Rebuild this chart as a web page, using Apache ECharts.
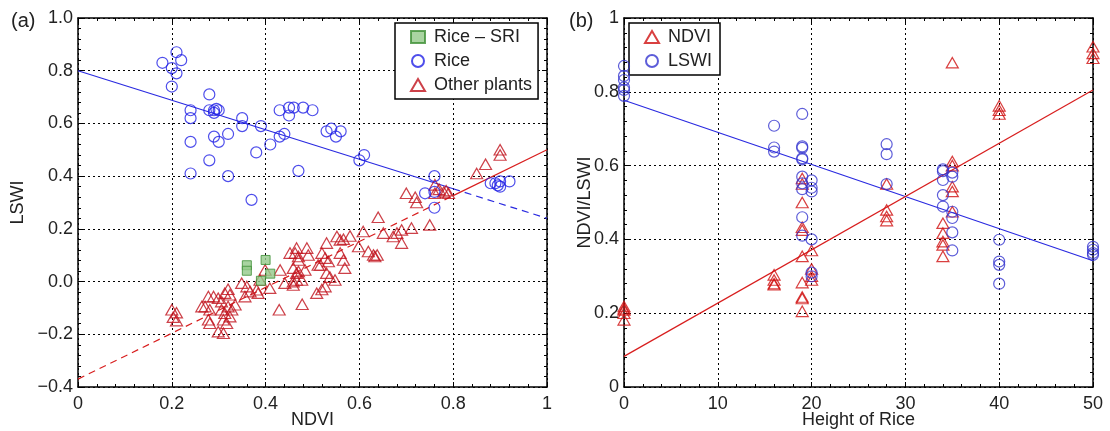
<!DOCTYPE html>
<html>
<head>
<meta charset="utf-8">
<script src="https://cdn.jsdelivr.net/npm/echarts@6/dist/echarts.min.js"></script>
<style>html,body{margin:0;padding:0;background:#fff}#c{width:1110px;height:431px}</style>
</head>
<body>
<div id="c"></div>
<script>
// ---- Panel (a): NDVI vs LSWI ----
const riceSRI = [[0.36,0.062],[0.36,0.041],[0.40,0.082],[0.41,0.03],[0.39,0.003]];
const riceA = [
 [0.18,0.83],[0.20,0.81],[0.21,0.87],[0.22,0.84],[0.21,0.79],[0.20,0.74],
 [0.28,0.71],[0.24,0.65],[0.24,0.62],[0.28,0.65],[0.29,0.65],[0.30,0.65],[0.29,0.64],[0.295,0.655],
 [0.35,0.62],[0.35,0.59],[0.39,0.59],[0.29,0.55],[0.32,0.56],[0.30,0.53],[0.24,0.53],[0.28,0.46],
 [0.24,0.41],[0.32,0.40],[0.37,0.31],[0.38,0.49],[0.41,0.52],[0.43,0.55],[0.44,0.56],[0.43,0.65],
 [0.45,0.66],[0.46,0.66],[0.45,0.63],[0.48,0.66],[0.50,0.65],[0.47,0.42],
 [0.53,0.57],[0.54,0.58],[0.55,0.55],[0.56,0.57],[0.60,0.46],[0.61,0.48],
 [0.76,0.40],[0.74,0.335],[0.76,0.34],[0.76,0.28],
 [0.88,0.373],[0.89,0.373],[0.90,0.38],[0.90,0.36],[0.92,0.38],[0.895,0.365]
];
const otherPlants = [
 [0.20,-0.107],[0.21,-0.118],[0.203,-0.135],[0.21,-0.148],
 [0.264,-0.095],[0.278,-0.057],[0.289,-0.057],[0.271,-0.095],[0.281,-0.107],[0.278,-0.145],[0.281,-0.158],
 [0.299,-0.063],[0.306,-0.076],[0.313,-0.044],[0.32,-0.029],[0.324,-0.05],
 [0.306,-0.107],[0.313,-0.12],[0.32,-0.095],[0.328,-0.107],[0.335,-0.088],
 [0.31,-0.145],[0.317,-0.158],[0.324,-0.133],[0.299,-0.19],[0.31,-0.196],
 [0.349,-0.006],[0.36,-0.019],[0.367,-0.038],[0.381,-0.031],[0.384,-0.044],[0.356,-0.057],
 [0.388,0.006],[0.399,0.044],[0.409,-0.025],[0.431,0.044],[0.429,-0.107],[0.441,-0.006],
 [0.459,0.0],[0.466,0.032],[0.463,0.108],[0.47,0.082],
 [0.452,0.108],[0.466,0.127],[0.488,0.127],[0.47,0.095],[0.491,0.101],
 [0.459,0.051],[0.47,0.038],[0.484,0.044],[0.466,0.006],[0.477,0.006],[0.459,-0.013],
 [0.478,-0.086],[0.509,-0.044],[0.512,0.063],
 [0.53,0.146],[0.52,0.108],[0.527,0.089],[0.534,0.076],[0.517,0.063],
 [0.53,0.032],[0.537,0.017],[0.548,0.006],[0.527,-0.019],[0.52,-0.03],
 [0.552,0.171],[0.559,0.158],[0.566,0.161],[0.58,0.173],
 [0.559,0.108],[0.566,0.082],[0.569,0.051],
 [0.598,0.133],[0.608,0.19],[0.64,0.244],
 [0.619,0.114],[0.63,0.101],[0.638,0.101],[0.633,0.095],
 [0.651,0.184],[0.672,0.171],[0.68,0.184],[0.69,0.196],[0.69,0.146],[0.711,0.203],[0.75,0.215],
 [0.70,0.335],[0.722,0.30],[0.719,0.32],
 [0.761,0.367],[0.77,0.35],[0.78,0.34],[0.79,0.335],[0.785,0.345],[0.761,0.335],
 [0.85,0.41],[0.869,0.445],[0.90,0.50],[0.90,0.48]
];
const fitRiceSolid = [[0,0.80],[0.80,0.352]];
const fitRiceDash = [[0.80,0.352],[1,0.24]];
const fitOtherDash = [[0,-0.37],[0.80,0.326]];
const fitOtherSolid = [[0.80,0.326],[1,0.50]];
const ticksAX = [0,0.2,0.4,0.6,0.8,1];
const ticksAY = [-0.4,-0.2,0,0.2,0.4,0.6,0.8,1.0];

// ---- Panel (b): Height of rice vs NDVI / LSWI ----
const ndviB = [
 [0,0.218],[0,0.212],[0,0.209],[0,0.20],[0,0.182],
 [16,0.304],[16,0.29],[16,0.28],[16,0.277],
 [19,0.565],[19,0.55],[19,0.50],[19,0.433],[19,0.425],[19,0.354],[19,0.283],[19,0.244],[19,0.24],[19,0.205],
 [20,0.37],[20,0.32],[20,0.30],[20,0.29],
 [28,0.55],[28,0.48],[28,0.462],[28,0.451],
 [34,0.444],[34,0.417],[34,0.394],[34,0.385],[34,0.354],
 [35,0.879],[35,0.611],[35,0.60],[35,0.543],[35,0.53],[35,0.475],
 [40,0.762],[40,0.75],[40,0.74],
 [50,0.922],[50,0.904],[50,0.891]
];
const lswiB = [
 [0,0.87],[0,0.843],[0,0.832],[0,0.812],[0,0.805],[0,0.789],
 [16,0.708],[16,0.649],[16,0.638],
 [19,0.74],[19,0.652],[19,0.648],[19,0.62],[19,0.617],[19,0.57],[19,0.552],[19,0.536],[19,0.46],[19,0.41],
 [20,0.56],[20,0.54],[20,0.53],[20,0.40],[20,0.31],[20,0.30],
 [28,0.658],[28,0.631],[28,0.55],
 [34,0.59],[34,0.585],[34,0.561],[34,0.52],[34,0.489],
 [35,0.581],[35,0.57],[35,0.475],[35,0.458],[35,0.419],[35,0.37],
 [40,0.399],[40,0.34],[40,0.331],[40,0.28],
 [50,0.38],[50,0.372],[50,0.363],[50,0.358]
];
const fitNdviB = [[0,0.083],[50,0.805]];
const fitLswiB = [[0,0.777],[50,0.342]];
const ticksBX = [0,10,20,30,40,50];
const ticksBY = [0,0.2,0.4,0.6,0.8,1];

const FONT = 'Liberation Sans';
const TXT = '#222';
const BLUE = '#2222e6';
const RED = '#c0121c';
const BLUE_L = '#2a2ae0';
const RED_L = '#d81e1e';

function fmtA_X(v){ if (Math.abs(v)<1e-9) return '0'; if (Math.abs(v-1)<1e-9) return '1'; return v.toFixed(1); }
function fmtA_Y(v){ if (Math.abs(v)<1e-9) return '0.0'; return (v<0?'\u2212':'') + Math.abs(v).toFixed(1); }
function fmtB_Y(v){ if (Math.abs(v)<1e-9) return '0'; if (Math.abs(v-1)<1e-9) return '1'; return v.toFixed(1); }

function mkAxis(gridIndex, min, max, interval, pos, showLabel, fmt, name, nameGap, isX) {
  return {
    type: 'value', gridIndex, min, max, interval, position: pos,
    name: showLabel ? name : '', nameLocation: 'middle', nameGap: nameGap, nameMoveOverlap: false,
    nameTextStyle: { fontFamily: FONT, fontSize: 18, color: TXT },
    axisLine: { show: true, onZero: false, lineStyle: { color: '#000', width: 1.5 } },
    axisTick: { show: true, inside: true, length: 5, lineStyle: { color: '#000', width: 1 } },
    minorTick: { show: true, splitNumber: 5, length: 3, lineStyle: { color: '#000', width: 1 } },
    axisLabel: { show: showLabel, formatter: fmt, fontFamily: FONT, fontSize: 18, color: TXT, margin: isX ? 8 : 5 },
    splitLine: { show: showLabel, lineStyle: { color: '#000', width: 1, type: [2, 3] } },
    minorSplitLine: { show: false }
  };
}

const circleStyle = c => ({ color: 'rgba(0,0,0,0)', borderColor: c, borderWidth: 1.2 });
const triStyle = c => ({ color: 'rgba(0,0,0,0)', borderColor: c, borderWidth: 1.2 });

const option = {
  animation: false,
  backgroundColor: '#fff',
  title: [
    { text: '(a)', left: 6, top: 6, textStyle: { fontFamily: FONT, fontSize: 20, fontWeight: 'normal', color: TXT } },
    { text: '(b)', left: 564, top: 6, textStyle: { fontFamily: FONT, fontSize: 20, fontWeight: 'normal', color: TXT } }
  ],
  grid: [
    { left: 78, right: 563, top: 18, bottom: 44, containLabel: false, outerBoundsMode: 'none' },
    { left: 624, right: 17, top: 18, bottom: 44, containLabel: false, outerBoundsMode: 'none' }
  ],
  xAxis: [
    mkAxis(0, 0, 1, 0.2, 'bottom', true, fmtA_X, 'NDVI', 24, true),
    mkAxis(0, 0, 1, 0.2, 'top', false, fmtA_X, '', 0, true),
    mkAxis(1, 0, 50, 10, 'bottom', true, null, 'Height of Rice', 24, true),
    mkAxis(1, 0, 50, 10, 'top', false, null, '', 0, true)
  ],
  yAxis: [
    mkAxis(0, -0.4, 1.0, 0.2, 'left', true, fmtA_Y, 'LSWI', 51, false),
    mkAxis(0, -0.4, 1.0, 0.2, 'right', false, fmtA_Y, '', 0, false),
    mkAxis(1, 0, 1, 0.2, 'left', true, fmtB_Y, 'NDVI/LSWI', 30, false),
    mkAxis(1, 0, 1, 0.2, 'right', false, fmtB_Y, '', 0, false)
  ],
  legend: [
    {
      data: ['Rice \u2013 SRI', 'Rice', 'Other plants'],
      orient: 'vertical', left: 395, top: 23,
      backgroundColor: '#fff', borderColor: '#000', borderWidth: 1.5, borderRadius: 0,
      padding: [5, 6, 5, 15], itemGap: 6, itemWidth: 14, itemHeight: 12,
      textStyle: { fontFamily: FONT, fontSize: 18, color: TXT, padding: [0, 0, 0, 4] }
    },
    {
      data: ['NDVI', 'LSWI'],
      orient: 'vertical', left: 629, top: 23,
      backgroundColor: '#fff', borderColor: '#000', borderWidth: 1.5, borderRadius: 0,
      padding: [5, 8, 5, 15], itemGap: 6, itemWidth: 14, itemHeight: 12,
      textStyle: { fontFamily: FONT, fontSize: 18, color: TXT, padding: [0, 0, 0, 4] }
    }
  ],
  series: [
    { type: 'line', xAxisIndex: 0, yAxisIndex: 0, data: fitRiceSolid, symbol: 'none', lineStyle: { color: BLUE_L, width: 1.2 }, z: 3 },
    { type: 'line', xAxisIndex: 0, yAxisIndex: 0, data: fitRiceDash, symbol: 'none', lineStyle: { color: BLUE_L, width: 1.2, type: [7, 5] }, z: 3 },
    { type: 'line', xAxisIndex: 0, yAxisIndex: 0, data: fitOtherDash, symbol: 'none', lineStyle: { color: RED_L, width: 1.2, type: [7, 5] }, z: 3 },
    { type: 'line', xAxisIndex: 0, yAxisIndex: 0, data: fitOtherSolid, symbol: 'none', lineStyle: { color: RED_L, width: 1.2 }, z: 3 },
    { name: 'Other plants', type: 'scatter', xAxisIndex: 0, yAxisIndex: 0, data: otherPlants, symbol: 'triangle', symbolSize: [12, 10.5], itemStyle: triStyle(RED), z: 4 },
    { name: 'Rice', type: 'scatter', xAxisIndex: 0, yAxisIndex: 0, data: riceA, symbol: 'circle', symbolSize: 11, itemStyle: circleStyle(BLUE), z: 5 },
    { name: 'Rice \u2013 SRI', type: 'scatter', xAxisIndex: 0, yAxisIndex: 0, data: riceSRI, symbol: 'rect', symbolSize: 9, itemStyle: { color: '#93c98a', borderColor: '#3d8f35', borderWidth: 1 }, z: 6 },

    { type: 'line', xAxisIndex: 2, yAxisIndex: 2, data: fitLswiB, symbol: 'none', lineStyle: { color: BLUE_L, width: 1.2 }, z: 3 },
    { type: 'line', xAxisIndex: 2, yAxisIndex: 2, data: fitNdviB, symbol: 'none', lineStyle: { color: RED_L, width: 1.2 }, z: 3 },
    { name: 'NDVI', type: 'scatter', xAxisIndex: 2, yAxisIndex: 2, data: ndviB, symbol: 'triangle', symbolSize: [12, 10.5], itemStyle: triStyle('#d01010'), z: 4 },
    { name: 'LSWI', type: 'scatter', xAxisIndex: 2, yAxisIndex: 2, data: lswiB, symbol: 'circle', symbolSize: 11, itemStyle: circleStyle('#3434d0'), z: 5 }
  ]
};

const chart = echarts.init(document.getElementById('c'), null, { renderer: 'canvas' });
chart.setOption(option);
</script>
</body>
</html>
